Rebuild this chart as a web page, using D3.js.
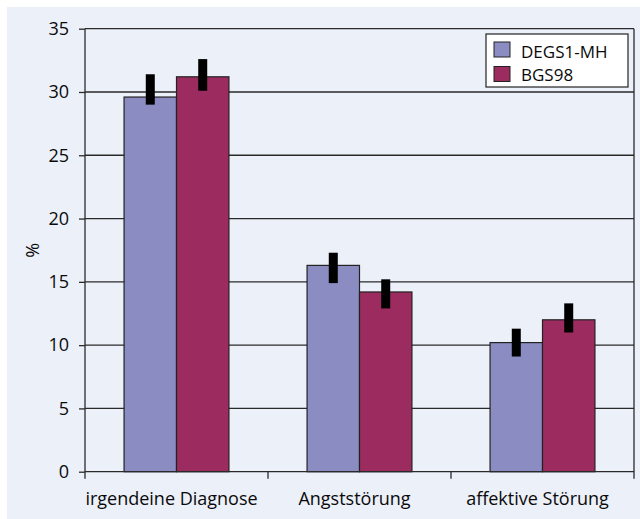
<!DOCTYPE html>
<html lang="de">
<head>
<meta charset="UTF-8">
<title>DEGS1-MH vs BGS98</title>
<style>
    body { margin: 0; background: #fff; }
    svg { display: block; }
    text { font-family: "Open Sans", sans-serif; fill: #0a0a0a; }
</style>
</head>
<body>
<svg id="chart" width="640" height="519"></svg>
<script src="https://d3js.org/d3.v7.min.js"></script>
<script>
    // data
    const categories = ["irgendeine Diagnose", "Angststörung", "affektive Störung"];
    const seriesNames = ["DEGS1-MH", "BGS98"];
    const seriesColors = ["#8a8cc2", "#9c2b5f"];
    const degsValues = [29.6, 16.3, 10.2];
    const bgsValues = [31.2, 14.2, 12.0];
    const degsLow = [29.0, 14.9, 9.1];
    const degsHigh = [31.4, 17.3, 11.3];
    const bgsLow = [30.1, 12.9, 11.0];
    const bgsHigh = [32.6, 15.2, 13.3];
    const yTicks = [0, 5, 10, 15, 20, 25, 30, 35];

    const svg = d3.select("#chart");
    const plotLeft = 85, plotRight = 634, plotTop = 28.7, plotBottom = 471.7;
    const axisColor = "#2a2a2a";

    svg.append("rect")
        .attr("x", 7).attr("y", 7)
        .attr("width", 633).attr("height", 512)
        .attr("fill", "#ecf0f9");

    const x = d3.scaleBand().domain(categories).range([plotLeft, plotRight]);
    // two bars per group, the gap between groups is about 1.49 bar widths
    const barW = x.bandwidth() / 3.49;
    const inner = d3.scaleBand().domain(seriesNames)
        .range([x.bandwidth() / 2 - barW, x.bandwidth() / 2 + barW]);
    const y = d3.scaleLinear().domain([0, 35]).range([plotBottom, plotTop]);

    // grid lines
    svg.append("g")
        .selectAll("line")
        .data(yTicks.slice(1))
        .join("line")
        .attr("x1", plotLeft).attr("x2", plotRight)
        .attr("y1", d => y(d)).attr("y2", d => y(d))
        .attr("stroke", axisColor).attr("stroke-width", 1.3);

    // right border
    svg.append("line")
        .attr("x1", plotRight).attr("x2", plotRight)
        .attr("y1", plotTop).attr("y2", plotBottom + 7)
        .attr("stroke", axisColor).attr("stroke-width", 1.3);

    const rows = categories.map((c, i) => ({
        cat: c,
        vals: [
            { s: seriesNames[0], v: degsValues[i], lo: degsLow[i], hi: degsHigh[i], color: seriesColors[0] },
            { s: seriesNames[1], v: bgsValues[i], lo: bgsLow[i], hi: bgsHigh[i], color: seriesColors[1] }
        ]
    }));

    const groups = svg.append("g")
        .selectAll("g")
        .data(rows)
        .join("g")
        .attr("transform", d => `translate(${x(d.cat)},0)`);

    groups.selectAll("rect.bar")
        .data(d => d.vals)
        .join("rect")
        .attr("class", "bar")
        .attr("x", d => inner(d.s))
        .attr("y", d => y(d.v))
        .attr("width", inner.bandwidth())
        .attr("height", d => y(0) - y(d.v))
        .attr("fill", d => d.color)
        .attr("stroke", "#222")
        .attr("stroke-width", 1.2);

    groups.selectAll("rect.err")
        .data(d => d.vals)
        .join("rect")
        .attr("class", "err")
        .attr("x", d => inner(d.s) + inner.bandwidth() / 2 - 4.5)
        .attr("y", d => y(d.hi))
        .attr("width", 9)
        .attr("height", d => y(d.lo) - y(d.hi))
        .attr("fill", "#000");

    // y axis
    const yAxis = svg.append("g")
        .attr("transform", `translate(${plotLeft},0)`)
        .call(d3.axisLeft(y).tickValues(yTicks).tickSize(6).tickPadding(10));
    yAxis.select(".domain").remove();
    yAxis.selectAll(".tick line").attr("stroke", axisColor).attr("stroke-width", 1.3);
    yAxis.selectAll(".tick text").style("font-size", "18px").attr("fill", "#0a0a0a");
    yAxis.attr("font-family", null);
    svg.append("line")
        .attr("x1", plotLeft).attr("x2", plotLeft)
        .attr("y1", plotTop).attr("y2", plotBottom + 7)
        .attr("stroke", axisColor).attr("stroke-width", 1.3);

    // x axis
    svg.append("line")
        .attr("x1", plotLeft).attr("x2", plotRight)
        .attr("y1", plotBottom).attr("y2", plotBottom)
        .attr("stroke", axisColor).attr("stroke-width", 1.3);
    svg.append("g")
        .selectAll("line")
        .data(categories.slice(1))
        .join("line")
        .attr("x1", d => x(d)).attr("x2", d => x(d))
        .attr("y1", plotBottom).attr("y2", plotBottom + 7)
        .attr("stroke", axisColor).attr("stroke-width", 1.3);
    svg.append("g")
        .selectAll("text")
        .data(categories)
        .join("text")
        .attr("x", d => x(d) + x.bandwidth() / 2 - 5)
        .attr("y", 505)
        .attr("text-anchor", "middle")
        .style("font-size", "18px")
        .text(d => d);

    // y label
    svg.append("text")
        .attr("transform", `translate(39,${(plotTop + plotBottom) / 2}) rotate(-90)`)
        .attr("text-anchor", "middle")
        .style("font-size", "18px")
        .text("%");

    // legend
    const legend = svg.append("g").attr("transform", "translate(486,34)");
    legend.append("rect")
        .attr("width", 142).attr("height", 53)
        .attr("fill", "#fff").attr("stroke", "#222").attr("stroke-width", 1.2);
    seriesNames.forEach((s, i) => {
        legend.append("rect")
            .attr("x", 8).attr("y", 8 + i * 24.5)
            .attr("width", 16).attr("height", 15)
            .attr("fill", seriesColors[i]).attr("stroke", "#222").attr("stroke-width", 1);
        legend.append("text")
            .attr("x", 35).attr("y", 23.8 + i * 23.4)
            .style("font-size", "17px")
            .text(s);
    });
</script>
</body>
</html>
